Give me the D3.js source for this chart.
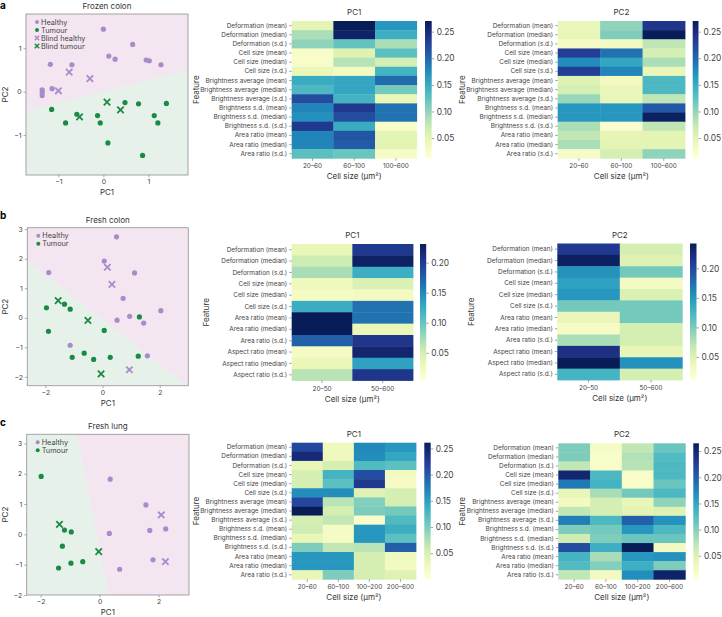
<!DOCTYPE html>
<html><head><meta charset="utf-8">
<script src="https://cdn.jsdelivr.net/npm/d3@7"></script>
<style>
body{margin:0;background:#fff}
svg{display:block}
text{font-family:Inter,"Noto Sans",sans-serif;fill:#333}
</style>
</head><body><svg id="c" width="722" height="617"></svg>
<script>
// ---------------- DATA ----------------
const featuresAC = ["Deformation (mean)","Deformation (median)","Deformation (s.d.)","Cell size (mean)","Cell size (median)","Cell size (s.d.)","Brightness average (mean)","Brightness average (median)","Brightness average (s.d.)","Brightness s.d. (mean)","Brightness s.d. (median)","Brightness s.d. (s.d.)","Area ratio (mean)","Area ratio (median)","Area ratio (s.d.)"];
const featuresB = ["Deformation (mean)","Deformation (median)","Deformation (s.d.)","Cell size (mean)","Cell size (median)","Cell size (s.d.)","Area ratio (mean)","Area ratio (median)","Area ratio (s.d.)","Aspect ratio (mean)","Aspect ratio (median)","Aspect ratio (s.d.)"];
const cellSizesA = ["20–60","60–100","100–600"];
const cellSizesB = ["20–50","50–600"];
const cellSizesC = ["20–60","60–100","100–200","200–600"];

const frozenColonPC1 = [[0.051,0.270,0.167],[0.089,0.262,0.146],[0.102,0.123,0.089],[0.025,0.056,0.128],[0.025,0.082,0.064],[0.043,0.033,0.141],[0.149,0.154,0.198],[0.136,0.154,0.115],[0.218,0.141,0.043],[0.180,0.236,0.193],[0.172,0.218,0.193],[0.236,0.149,0.025],[0.180,0.213,0.051],[0.180,0.208,0.051],[0.128,0.120,0.030]];
const frozenColonPC2 = [[0.046,0.102,0.239],[0.046,0.110,0.270],[0.030,0.033,0.077],[0.231,0.193,0.064],[0.175,0.154,0.089],[0.231,0.180,0.043],[0.058,0.033,0.136],[0.064,0.043,0.136],[0.097,0.046,0.077],[0.167,0.167,0.211],[0.167,0.167,0.265],[0.089,0.022,0.077],[0.077,0.048,0.051],[0.089,0.051,0.051],[0.027,0.064,0.102]];
const freshColonPC1 = [[0.034,0.201],[0.054,0.226],[0.072,0.122],[0.027,0.045],[0.020,0.022],[0.124,0.163],[0.231,0.163],[0.231,0.031],[0.174,0.204],[0.020,0.220],[0.031,0.133],[0.065,0.204]];
const freshColonPC2 = [[0.212,0.057],[0.237,0.050],[0.154,0.103],[0.143,0.029],[0.150,0.053],[0.103,0.103],[0.041,0.103],[0.025,0.057],[0.080,0.057],[0.219,0.043],[0.242,0.154],[0.127,0.057]];
const freshLungPC1 = [[0.214,0.026,0.167,0.157],[0.243,0.026,0.164,0.144],[0.034,0.052,0.123,0.117],[0.052,0.131,0.209,0.021],[0.052,0.117,0.227,0.016],[0.164,0.164,0.044,0.052],[0.214,0.070,0.097,0.052],[0.261,0.052,0.099,0.104],[0.052,0.065,0.013,0.123],[0.057,0.018,0.157,0.136],[0.034,0.018,0.157,0.117],[0.099,0.065,0.070,0.196],[0.157,0.157,0.052,0.026],[0.157,0.157,0.052,0.021],[0.034,0.099,0.052,0.044]];
const freshLungPC2 = [[0.104,0.023,0.070,0.114],[0.104,0.018,0.078,0.127],[0.070,0.018,0.075,0.130],[0.252,0.130,0.018,0.130],[0.182,0.135,0.018,0.114],[0.039,0.083,0.109,0.130],[0.026,0.057,0.039,0.096],[0.070,0.057,0.044,0.049],[0.179,0.130,0.200,0.166],[0.104,0.109,0.161,0.130],[0.062,0.104,0.114,0.114],[0.213,0.140,0.265,0.026],[0.135,0.083,0.161,0.166],[0.127,0.101,0.140,0.104],[0.070,0.026,0.169,0.257]];

const colorbarTicksA = [0.05,0.10,0.15,0.20,0.25];
const colorbarTicksB = [0.05,0.10,0.15,0.20];
const colorDomains = {aPC1:[0.012,0.270],aPC2:[0.012,0.270],bPC1:[0.004,0.231],bPC2:[0.011,0.242],cPC1:[0.0,0.261],cPC2:[0.005,0.265]};

// scatter data [PC1, PC2]
const frozenHealthy = [[0,1.44],[0.65,1.09],[0.12,0.82],[0.26,0.75],[0.95,0.73],[1.02,0.71],[1.28,0.62],[-1.18,0.63],[-0.70,0.62],[-1.14,0.07],[-1.36,0.04],[-1.36,-0.02],[-1.36,-0.09]];
const frozenBlindHealthy = [[-0.76,0.45],[-0.30,0.30],[-1.0,0.02]];
const frozenTumour = [[-1.15,-0.41],[-0.59,-0.52],[-0.13,-0.55],[-0.07,-0.72],[-0.84,-0.72],[0.48,-0.25],[0.78,-0.28],[1.40,-0.27],[1.13,-0.55],[1.21,-0.72],[0.10,-1.18],[0.87,-1.47]];
const frozenBlindTumour = [[0.08,-0.24],[0.38,-0.42],[-0.53,-0.58]];
const frozenBoundary = [[-1.72,-0.45],[1.88,0.50]];

const colonHealthy = [[0.49,2.74],[0.06,1.92],[-1.88,1.53],[1.12,1.52],[0.72,0.66],[0.95,0.05],[1.44,-0.18],[2.04,0.24],[0.51,-0.08],[-1.13,-0.93],[1.57,-1.29]];
const colonBlindHealthy = [[0.17,1.71],[0.33,1.13],[0.94,-1.76]];
const colonTumour = [[-1.96,0.34],[-1.33,0.46],[-1.13,0.29],[-1.89,-0.46],[0.06,-0.43],[1.29,0.03],[-0.64,-1.20],[-1.06,-1.34],[-0.31,-1.41],[0.27,-1.34],[1.25,-1.30]];
const colonBlindTumour = [[-1.55,0.58],[-0.51,-0.09],[-0.05,-1.90]];
const colonBoundary = [[-2.63,1.96],[2.95,-2.30]];

const lungHealthy = [[0.36,1.82],[1.57,0.97],[1.70,0.13],[2.24,0.18],[0.33,0.03],[1.81,-0.84],[0.68,-1.15]];
const lungBlindHealthy = [[2.09,0.64],[2.23,-0.90]];
const lungTumour = [[-1.98,1.91],[-1.19,0.14],[-0.96,0.08],[-1.26,-0.39],[-0.97,-0.95],[-0.57,-0.90],[-1.39,-1.11]];
const lungBlindTumour = [[-1.36,0.33],[-0.03,-0.57]];
const lungBoundary = [[-0.76,3.3],[0.30,-2.0]];

// ---------------- DRAW ----------------
const svg = d3.select("#c");
const PURPLE = "#a98bcb", GREEN = "#1b8a45", PINK = "#f4e6f1", LGREEN = "#e5f1e9";
let gradId = 0;

function heatmap(o){
  const g = svg.append("g");
  const x = d3.scaleBand().domain(o.cols).range([o.x0,o.x1]);
  const y = d3.scaleBand().domain(o.rows).range([o.y0,o.y1]);
  const col = d3.scaleSequential(d3.interpolateYlGnBu).domain(o.domain);
  const cells = [];
  o.vals.forEach((r,i)=>r.forEach((v,j)=>cells.push({r:o.rows[i],c:o.cols[j],v})));
  g.selectAll("rect.cell").data(cells).join("rect")
    .attr("x",d=>x(d.c)).attr("y",d=>y(d.r))
    .attr("width",x.bandwidth()+0.4).attr("height",y.bandwidth()+0.4)
    .attr("fill",d=>col(d.v));
  const ya = g.append("g").attr("transform",`translate(${o.x0},0)`)
    .call(d3.axisLeft(y).tickSize(2.5).tickPadding(2));
  ya.select(".domain").remove();
  ya.selectAll("line").attr("stroke","#666").attr("stroke-width",0.6);
  ya.selectAll("text").style("font-size","6.4px").style("fill","#444");
  const xa = g.append("g").attr("transform",`translate(0,${o.y1})`)
    .call(d3.axisBottom(x).tickSize(2.5).tickPadding(3));
  xa.select(".domain").remove();
  xa.selectAll("line").attr("stroke","#666").attr("stroke-width",0.6);
  xa.selectAll("text").style("font-size","6.4px").style("fill","#444");
  g.append("text").attr("x",(o.x0+o.x1)/2).attr("y",o.y0-6).attr("text-anchor","middle")
    .style("font-size","8px").text(o.title);
  g.append("text").attr("x",(o.x0+o.x1)/2).attr("y",o.y1+21).attr("text-anchor","middle")
    .style("font-size","8px").text("Cell size (μm²)");
  g.append("text").attr("transform",`translate(${o.featX},${(o.y0+o.y1)/2}) rotate(-90)`)
    .attr("text-anchor","middle").attr("dominant-baseline","middle")
    .style("font-size","8px").text("Feature");
  const id = "grad"+(gradId++);
  const lg = svg.append("defs").append("linearGradient").attr("id",id)
    .attr("x1","0").attr("y1","1").attr("x2","0").attr("y2","0");
  d3.range(0,1.0001,0.05).forEach(t=>lg.append("stop").attr("offset",t)
    .attr("stop-color",d3.interpolateYlGnBu(t)));
  g.append("rect").attr("x",o.cbx).attr("y",o.y0).attr("width",o.cbw).attr("height",o.y1-o.y0)
    .attr("fill",`url(#${id})`);
  const cs = d3.scaleLinear().domain(o.domain).range([o.y1,o.y0]);
  const ca = g.append("g").attr("transform",`translate(${o.cbx+o.cbw},0)`)
    .call(d3.axisRight(cs).tickValues(o.ticks).tickFormat(d3.format(".2f")).tickSize(2.5).tickPadding(2.5));
  ca.select(".domain").remove();
  ca.selectAll("line").attr("stroke","#666").attr("stroke-width",0.6);
  ca.selectAll("text").style("font-size","8.4px").style("fill","#444");
}

function xMark(g, x, y, color, s, w){
  g.append("path").attr("d",`M${x-s},${y-s}L${x+s},${y+s}M${x-s},${y+s}L${x+s},${y-s}`)
    .attr("stroke",color).attr("stroke-width",w).attr("fill","none");
}

function scatter(o){
  const g = svg.append("g");
  const x = d3.scaleLinear().domain(o.xdom).range([o.x0,o.x1]);
  const y = d3.scaleLinear().domain(o.ydom).range([o.y1,o.y0]);
  const cid = "clip"+(gradId++);
  svg.append("defs").append("clipPath").attr("id",cid).append("rect")
    .attr("x",o.x0).attr("y",o.y0).attr("width",o.x1-o.x0).attr("height",o.y1-o.y0);
  const pg = g.append("g").attr("clip-path",`url(#${cid})`);
  pg.append("rect").attr("x",o.x0).attr("y",o.y0).attr("width",o.x1-o.x0).attr("height",o.y1-o.y0).attr("fill",LGREEN);
  const P1=[x(o.boundary[0][0]),y(o.boundary[0][1])], P2=[x(o.boundary[1][0]),y(o.boundary[1][1])];
  const dx=P2[0]-P1[0], dy=P2[1]-P1[1], L=Math.hypot(dx,dy), ux=dx/L, uy=dy/L;
  let nx=-uy, ny=ux;
  const ref=[x(o.pinkRef[0]),y(o.pinkRef[1])];
  if((ref[0]-P1[0])*nx+(ref[1]-P1[1])*ny<0){nx=-nx;ny=-ny;}
  const B=2000;
  const A1=[P1[0]-ux*B,P1[1]-uy*B], A2=[P2[0]+ux*B,P2[1]+uy*B];
  pg.append("path").attr("d",`M${A1}L${A2}L${[A2[0]+nx*B,A2[1]+ny*B]}L${[A1[0]+nx*B,A1[1]+ny*B]}Z`).attr("fill",PINK);
  g.append("rect").attr("x",o.x0).attr("y",o.y0).attr("width",o.x1-o.x0).attr("height",o.y1-o.y0)
    .attr("fill","none").attr("stroke","#9a9a9a").attr("stroke-width",0.9);
  const xa = g.append("g").attr("transform",`translate(0,${o.y1})`)
    .call(d3.axisBottom(x).tickValues(o.xticks).tickFormat(d3.format("d")).tickSize(2.5).tickPadding(2));
  const ya = g.append("g").attr("transform",`translate(${o.x0},0)`)
    .call(d3.axisLeft(y).tickValues(o.yticks).tickFormat(d3.format("d")).tickSize(2.5).tickPadding(2));
  [xa,ya].forEach(a=>{a.select(".domain").remove();a.selectAll("line").attr("stroke","#777").attr("stroke-width",0.6);
    a.selectAll("text").style("font-size","6.8px").style("fill","#444");});
  g.append("text").attr("x",(o.x0+o.x1)/2).attr("y",o.y1+20).attr("text-anchor","middle").style("font-size","8px").text("PC1");
  g.append("text").attr("transform",`translate(6,${(o.y0+o.y1)/2}) rotate(-90)`).attr("text-anchor","middle")
    .attr("dominant-baseline","middle").style("font-size","8px").text("PC2");
  g.append("text").attr("x",(o.x0+o.x1)/2).attr("y",o.y0-5).attr("text-anchor","middle").style("font-size","8px").text(o.title);
  g.append("text").attr("x",0).attr("y",o.letterY).style("font-size","10px").style("font-weight","bold").style("fill","#000").text(o.letter);
  g.selectAll("circle.h").data(o.healthy).join("circle").attr("cx",d=>x(d[0])).attr("cy",d=>y(d[1])).attr("r",2.6).attr("fill",PURPLE);
  g.selectAll("circle.t").data(o.tumour).join("circle").attr("cx",d=>x(d[0])).attr("cy",d=>y(d[1])).attr("r",2.6).attr("fill",GREEN);
  o.blindHealthy.forEach(d=>xMark(g,x(d[0]),y(d[1]),PURPLE,3.2,1.8));
  o.blindTumour.forEach(d=>xMark(g,x(d[0]),y(d[1]),GREEN,3.2,1.8));
  o.legend.forEach((it,i)=>{
    const ly=o.y0+8+i*8, lx=o.x0+11;
    if(it.type==="dot") g.append("circle").attr("cx",lx).attr("cy",ly).attr("r",2).attr("fill",it.color);
    else xMark(g,lx,ly,it.color,2.2,1.5);
    g.append("text").attr("x",lx+4).attr("y",ly+2.6).style("font-size","7.3px").style("fill","#444").text(it.label);
  });
}

const leg4=[{type:"dot",color:PURPLE,label:"Healthy"},{type:"dot",color:GREEN,label:"Tumour"},{type:"x",color:PURPLE,label:"Blind healthy"},{type:"x",color:GREEN,label:"Blind tumour"}];
const leg2=leg4.slice(0,2);

scatter({x0:26,x1:188,y0:14,y1:175,xdom:[-1.72,1.88],ydom:[-1.92,1.79],xticks:[-1,0,1],yticks:[-1,0,1],
  title:"Frozen colon",letter:"a",letterY:9,boundary:frozenBoundary,pinkRef:[-1.7,1.7],
  healthy:frozenHealthy,tumour:frozenTumour,blindHealthy:frozenBlindHealthy,blindTumour:frozenBlindTumour,legend:leg4});
scatter({x0:27.3,x1:188.3,y0:227.7,y1:385.7,xdom:[-2.63,3.0],ydom:[-2.3,3.05],xticks:[-2,0,2],yticks:[-2,-1,0,1,2,3],
  title:"Fresh colon",letter:"b",letterY:219,boundary:colonBoundary,pinkRef:[2.9,3.0],
  healthy:colonHealthy,tumour:colonTumour,blindHealthy:colonBlindHealthy,blindTumour:colonBlindTumour,legend:leg2});
scatter({x0:26.7,x1:189,y0:434.3,y1:595,xdom:[-2.47,3.03],ydom:[-2,3.3],xticks:[-2,0,2],yticks:[-2,-1,0,1,2,3],
  title:"Fresh lung",letter:"c",letterY:426,boundary:lungBoundary,pinkRef:[3,0],
  healthy:lungHealthy,tumour:lungTumour,blindHealthy:lungBlindHealthy,blindTumour:lungBlindTumour,legend:leg2});

heatmap({x0:291.7,x1:416.7,y0:21,y1:158.3,rows:featuresAC,cols:cellSizesA,vals:frozenColonPC1,domain:colorDomains.aPC1,
  cbx:425,cbw:6.7,ticks:colorbarTicksA,title:"PC1",featX:197});
heatmap({x0:557.7,x1:685,y0:21,y1:158.3,rows:featuresAC,cols:cellSizesA,vals:frozenColonPC2,domain:colorDomains.aPC2,
  cbx:692.7,cbw:5.8,ticks:colorbarTicksA,title:"PC2",featX:463});
heatmap({x0:291.7,x1:413,y0:244,y1:380.5,rows:featuresB,cols:cellSizesB,vals:freshColonPC1,domain:colorDomains.bPC1,
  cbx:420,cbw:6.2,ticks:colorbarTicksB,title:"PC1",featX:206.7});
heatmap({x0:557.3,x1:682.3,y0:243.5,y1:380,rows:featuresB,cols:cellSizesB,vals:freshColonPC2,domain:colorDomains.bPC2,
  cbx:690,cbw:6.5,ticks:colorbarTicksB,title:"PC2",featX:471.7});
heatmap({x0:291.7,x1:416,y0:442.7,y1:579.3,rows:featuresAC,cols:cellSizesC,vals:freshLungPC1,domain:colorDomains.cPC1,
  cbx:424.3,cbw:6.4,ticks:colorbarTicksA,title:"PC1",featX:197.3});
heatmap({x0:558.3,x1:685.3,y0:443.3,y1:579.3,rows:featuresAC,cols:cellSizesC,vals:freshLungPC2,domain:colorDomains.cPC2,
  cbx:693.3,cbw:5.6,ticks:colorbarTicksA,title:"PC2",featX:462.7});
</script></body></html>
